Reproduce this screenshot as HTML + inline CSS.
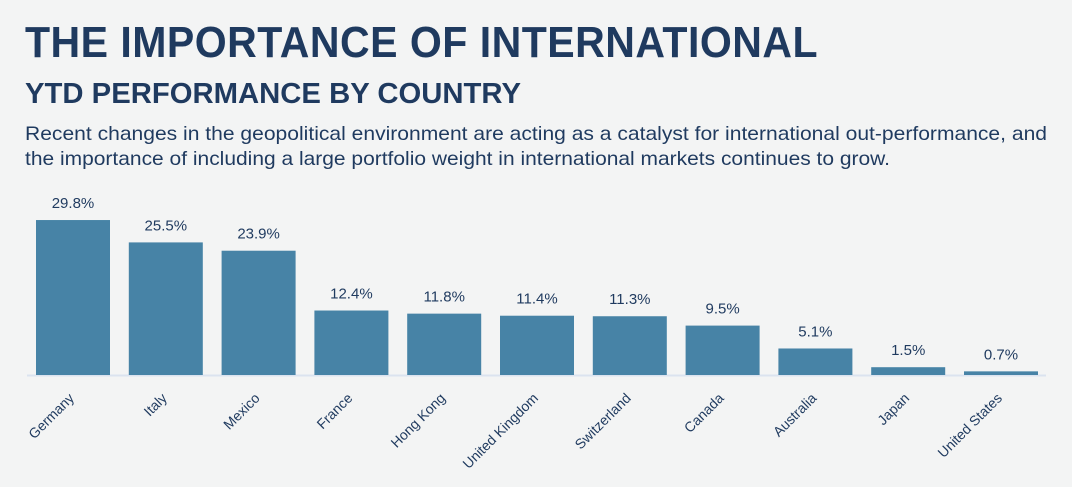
<!DOCTYPE html>
<html><head><meta charset="utf-8"><style>
html,body{margin:0;padding:0;background:#f3f4f4;}
body{width:1072px;height:487px;overflow:hidden;position:relative;font-family:"Liberation Sans",sans-serif;color:#1f3a5f;}
h1{position:absolute;left:25px;top:18px;margin:0;font-size:44px;font-weight:bold;letter-spacing:0.5px;white-space:nowrap;transform-origin:left top;}
h2{position:absolute;left:25px;top:78px;margin:0;font-size:29px;font-weight:bold;white-space:nowrap;transform-origin:left top;}
.pl{position:absolute;left:25px;margin:0;font-size:19.5px;line-height:25px;white-space:nowrap;transform-origin:left top;}
svg{position:absolute;left:0;top:0;}
</style></head><body>
<h1 id="t1">THE IMPORTANCE OF INTERNATIONAL</h1>
<h2 id="t2">YTD PERFORMANCE BY COUNTRY</h2>
<div>
<div class="pl" id="p1" style="top:122px">Recent changes in the geopolitical environment are acting as a catalyst for international out-performance, and</div>
<div class="pl" id="p2" style="top:147px">the importance of including a large portfolio weight in international markets continues to grow.</div>
</div>
<svg id="chart" width="1072" height="487"></svg>
<script>
const categories=["Germany","Italy","Mexico","France","Hong Kong","United Kingdom","Switzerland","Canada","Australia","Japan","United States"];
const values=[29.8,25.5,23.9,12.4,11.8,11.4,11.3,9.5,5.1,1.5,0.7];
const valueLabels=["29.8%","25.5%","23.9%","12.4%","11.8%","11.4%","11.3%","9.5%","5.1%","1.5%","0.7%"];
const NS="http://www.w3.org/2000/svg";
const svg=document.getElementById('chart');
const baseY=375, pxPer=5.2, x0=36, pitch=92.8, bw=74;
const xPos=i=>x0+i*pitch;
const yPos=v=>baseY-v*pxPer;
function mk(t,a){const e=document.createElementNS(NS,t);for(const k in a)e.setAttribute(k,a[k]);svg.appendChild(e);return e;}
const ax=mk('line',{x1:27,x2:1046,y1:baseY+0.5,y2:baseY+0.5,stroke:'#dbe3ef','stroke-width':2});


values.forEach((v,i)=>{
  const x=xPos(i), y=yPos(v);
  const r=mk('rect',{x:x,y:y,width:bw,height:baseY-y,fill:'#4783a6'});
  
  
  const t=mk('text',{x:x+bw/2,y:y-12,'text-anchor':'middle','font-size':15,fill:'#1f3a5f'});
  t.textContent=valueLabels[i];
  
  
  const cx=x+bw/2+2, cy=baseY+24;
  const l=mk('text',{x:cx,y:cy,'text-anchor':'end','font-size':14,fill:'#1f3a5f',transform:`rotate(-45 ${cx} ${cy})`});
  l.textContent=categories[i];
  
  
});
function fit(id,w){const e=document.getElementById(id);const s=w/e.getBoundingClientRect().width;e.style.transform=`scaleX(${s})`;}
fit('t1',793);fit('t2',496);fit('p1',1022);fit('p2',865);
</script>
</body></html>
